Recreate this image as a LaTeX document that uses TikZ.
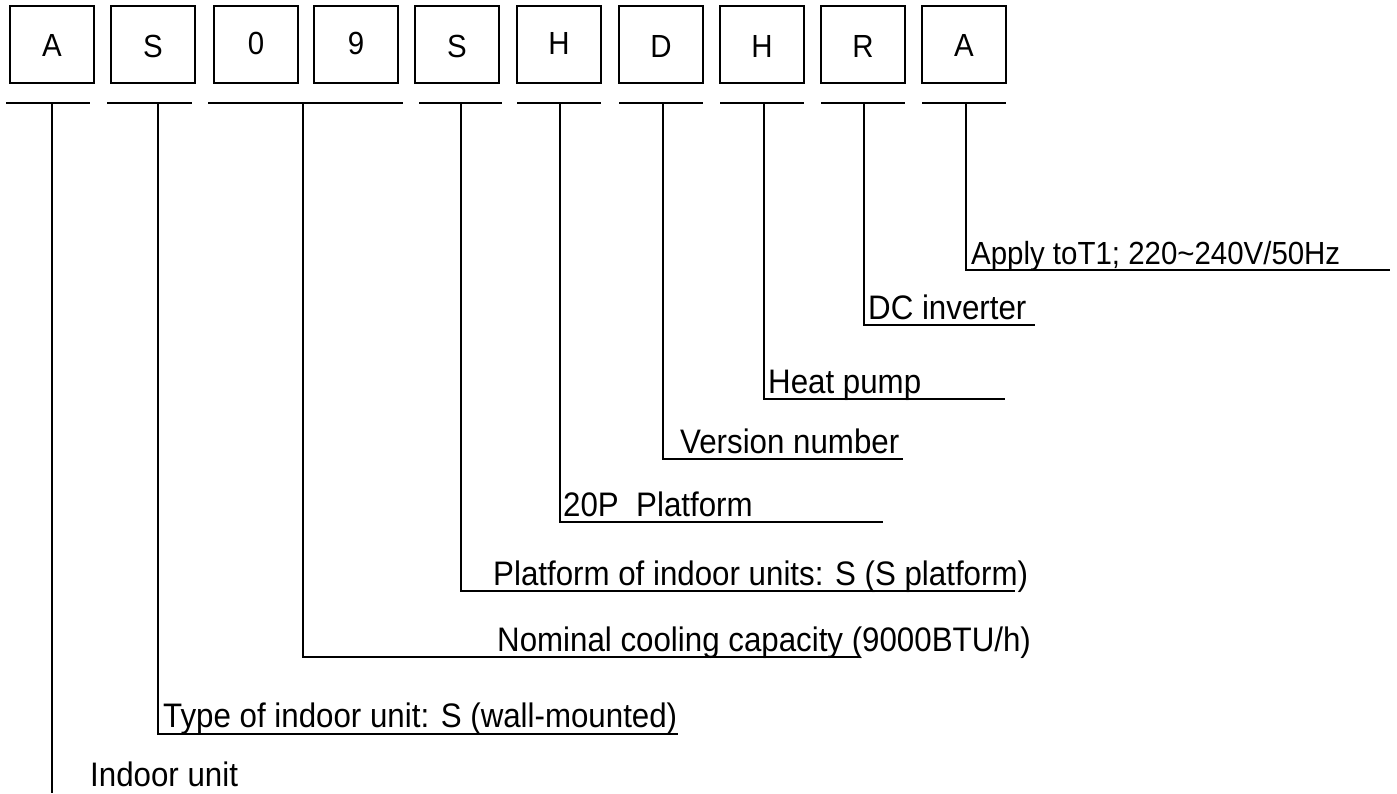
\documentclass[tikz,border=0pt]{standalone}
\usepackage{fontspec}
\setmainfont{Liberation Sans}
\newfontfamily\lblfont[FakeStretch=0.92]{Liberation Sans}
\begin{document}
\begin{tikzpicture}[x=1pt,y=-1pt,
  codebox/.style={draw,line width=1.6pt,minimum width=84pt,minimum height=77pt,inner sep=0pt},
  letter/.style={inner sep=0pt,font=\lblfont\fontsize{32}{36}\selectfont},
  lbl/.style={inner sep=0pt,anchor=base west,font=\lblfont\fontsize{34}{38}\selectfont},
  smalllbl/.style={lbl,font=\lblfont\fontsize{32}{36}\selectfont},
  ln/.style={line width=1.6pt}]
\useasboundingbox (0,0) rectangle (1397,793);
% boxes
\foreach \nm/\cx in {b1/52,b2/153,b3/256,b4/356,b5/457,b6/559,b7/661,b8/762,b9/863,b10/964}{
  \node[codebox] (\nm) at (\cx,44.5) {};
}
\node[letter] (k1) at (52,45.5) {A};
\node[letter] (k2) at (153,46) {S};
\node[letter] (k3) at (256,43) {0};
\node[letter] (k4) at (356,43) {9};
\node[letter] (k5) at (457,46) {S};
\node[letter] (k6) at (559,43) {H};
\node[letter] (k7) at (661,46) {D};
\node[letter] (k8) at (762,46) {H};
\node[letter] (k9) at (863,46) {R};
\node[letter] (k10) at (964,45.5) {A};
% underlines
\coordinate (u1a) at (6,103);   \coordinate (u1b) at (90,103);
\coordinate (u2a) at (107,103); \coordinate (u2b) at (192,103);
\coordinate (u3a) at (208,103); \coordinate (u3b) at (403,103);
\coordinate (u5a) at (419,103); \coordinate (u5b) at (502,103);
\coordinate (u6a) at (517,103); \coordinate (u6b) at (601,103);
\coordinate (u7a) at (619,103); \coordinate (u7b) at (703,103);
\coordinate (u8a) at (720,103); \coordinate (u8b) at (804,103);
\coordinate (u9a) at (821,103); \coordinate (u9b) at (905,103);
\coordinate (u10a) at (922,103); \coordinate (u10b) at (1006,103);
\foreach \u in {1,2,3,5,6,7,8,9,10}{
  \draw[ln] (u\u a) -- (u\u b);
}
% connector tops
\coordinate (t1) at (52,103);
\coordinate (t2) at (158,103);
\coordinate (t3) at (303,103);
\coordinate (t5) at (461,103);
\coordinate (t6) at (560,103);
\coordinate (t7) at (663,103);
\coordinate (t8) at (764,103);
\coordinate (t9) at (864,103);
\coordinate (t10) at (966,103);
% line ends
\coordinate (e1) at (52,793);
\coordinate (e2) at (678,734);
\coordinate (e3) at (860,657);
\coordinate (e5) at (1015,591);
\coordinate (e6) at (883,522);
\coordinate (e7) at (903,459);
\coordinate (e8) at (1005,399);
\coordinate (e9) at (1035,325);
\coordinate (e10) at (1390,270);
\draw[ln] (t1) -- (e1);
\foreach \c in {2,3,5,6,7,8,9,10}{
  \draw[ln] (t\c) |- (e\c);
}
% labels
\node[smalllbl] (n10) at (971,264) {Apply toT1; 220\textasciitilde240V/50Hz};
\node[lbl] (n9) at (868,319) {DC inverter};
\node[lbl] (n8) at (768,393) {Heat pump};
\node[lbl] (n7) at (680,453) {Version number};
\node[lbl] (n6) at (563,516) {20P\ \ Platform};
\node[lbl] (n5) at (493,585) {Platform of indoor units: S\ (S\ platform)};
\node[lbl] (n3) at (497,651) {Nominal cooling capacity (9000BTU/h)};
\node[lbl] (n2) at (163,727) {Type of indoor unit: S (wall-mounted)};
\node[lbl] (n1) at (90,786) {Indoor unit};
\end{tikzpicture}
\end{document}
